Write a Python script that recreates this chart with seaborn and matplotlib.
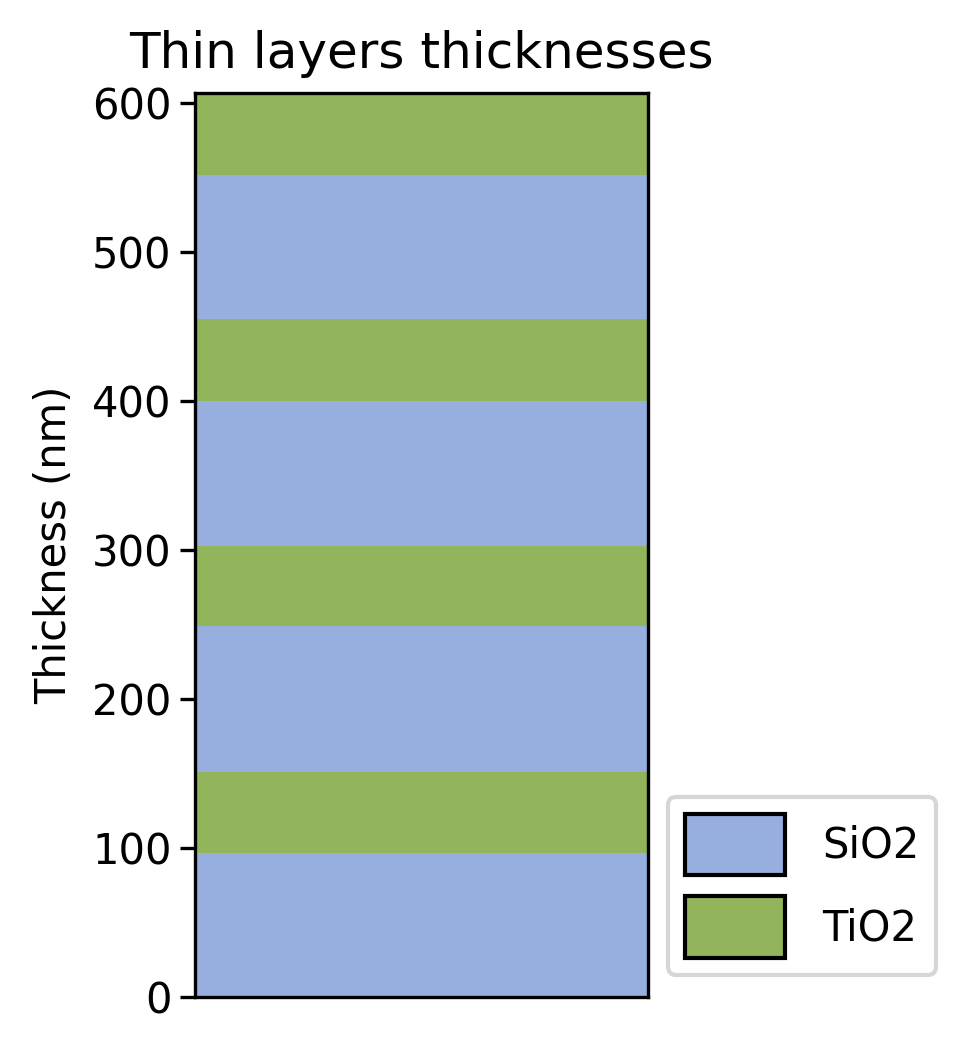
import seaborn as sns
import matplotlib.pyplot as plt
from matplotlib.patches import Patch

MATERIALS = ["SiO2", "TiO2", "SiO2", "TiO2", "SiO2", "TiO2", "SiO2", "TiO2"]
THICKNESSES = [97, 54, 98, 54, 97, 55, 97, 55]
COLORS = {"SiO2": "#97afde", "TiO2": "#92b45a"}


def main() -> None:
    sns.set_theme(style="ticks")
    plt.rcParams["font.family"] = ["DejaVu Sans"]
    plt.rcParams["text.color"] = "black"
    plt.rcParams["axes.labelcolor"] = "black"
    plt.rcParams["ytick.color"] = "black"
    plt.rcParams["ytick.labelcolor"] = "black"
    fig = plt.figure(figsize=(3.18, 3.51), dpi=300)
    ax = fig.add_axes([0.204, 0.053, 0.475, 0.859])

    bottom = 0
    for mat, t in zip(MATERIALS, THICKNESSES):
        ax.bar(0, t, width=1, bottom=bottom, color=COLORS[mat], linewidth=0)
        bottom += t

    ax.set_xlim(-0.5, 0.5)
    ax.set_ylim(0, bottom)
    ax.set_xticks([])
    ax.set_yticks([0, 100, 200, 300, 400, 500, 600])
    ax.tick_params(axis="y", labelsize=10, length=3.5, width=0.8, pad=2)
    for s in ax.spines.values():
        s.set_linewidth(0.8)
        s.set_color("black")
    ax.set_ylabel("Thickness (nm)", fontsize=10, color="black")
    ax.set_title("Thin layers thicknesses", fontsize=12, color="black")

    handles = [Patch(facecolor=COLORS[m], edgecolor="black", label=m) for m in ["SiO2", "TiO2"]]
    ax.legend(handles=handles, loc="lower left", bbox_to_anchor=(1.045, 0.025),
              fontsize=10, handlelength=2.4, handleheight=1.9, labelspacing=0.5,
              handletextpad=0.9, borderaxespad=0)

    fig.savefig("out.png", dpi=300)


if __name__ == "__main__":
    main()
